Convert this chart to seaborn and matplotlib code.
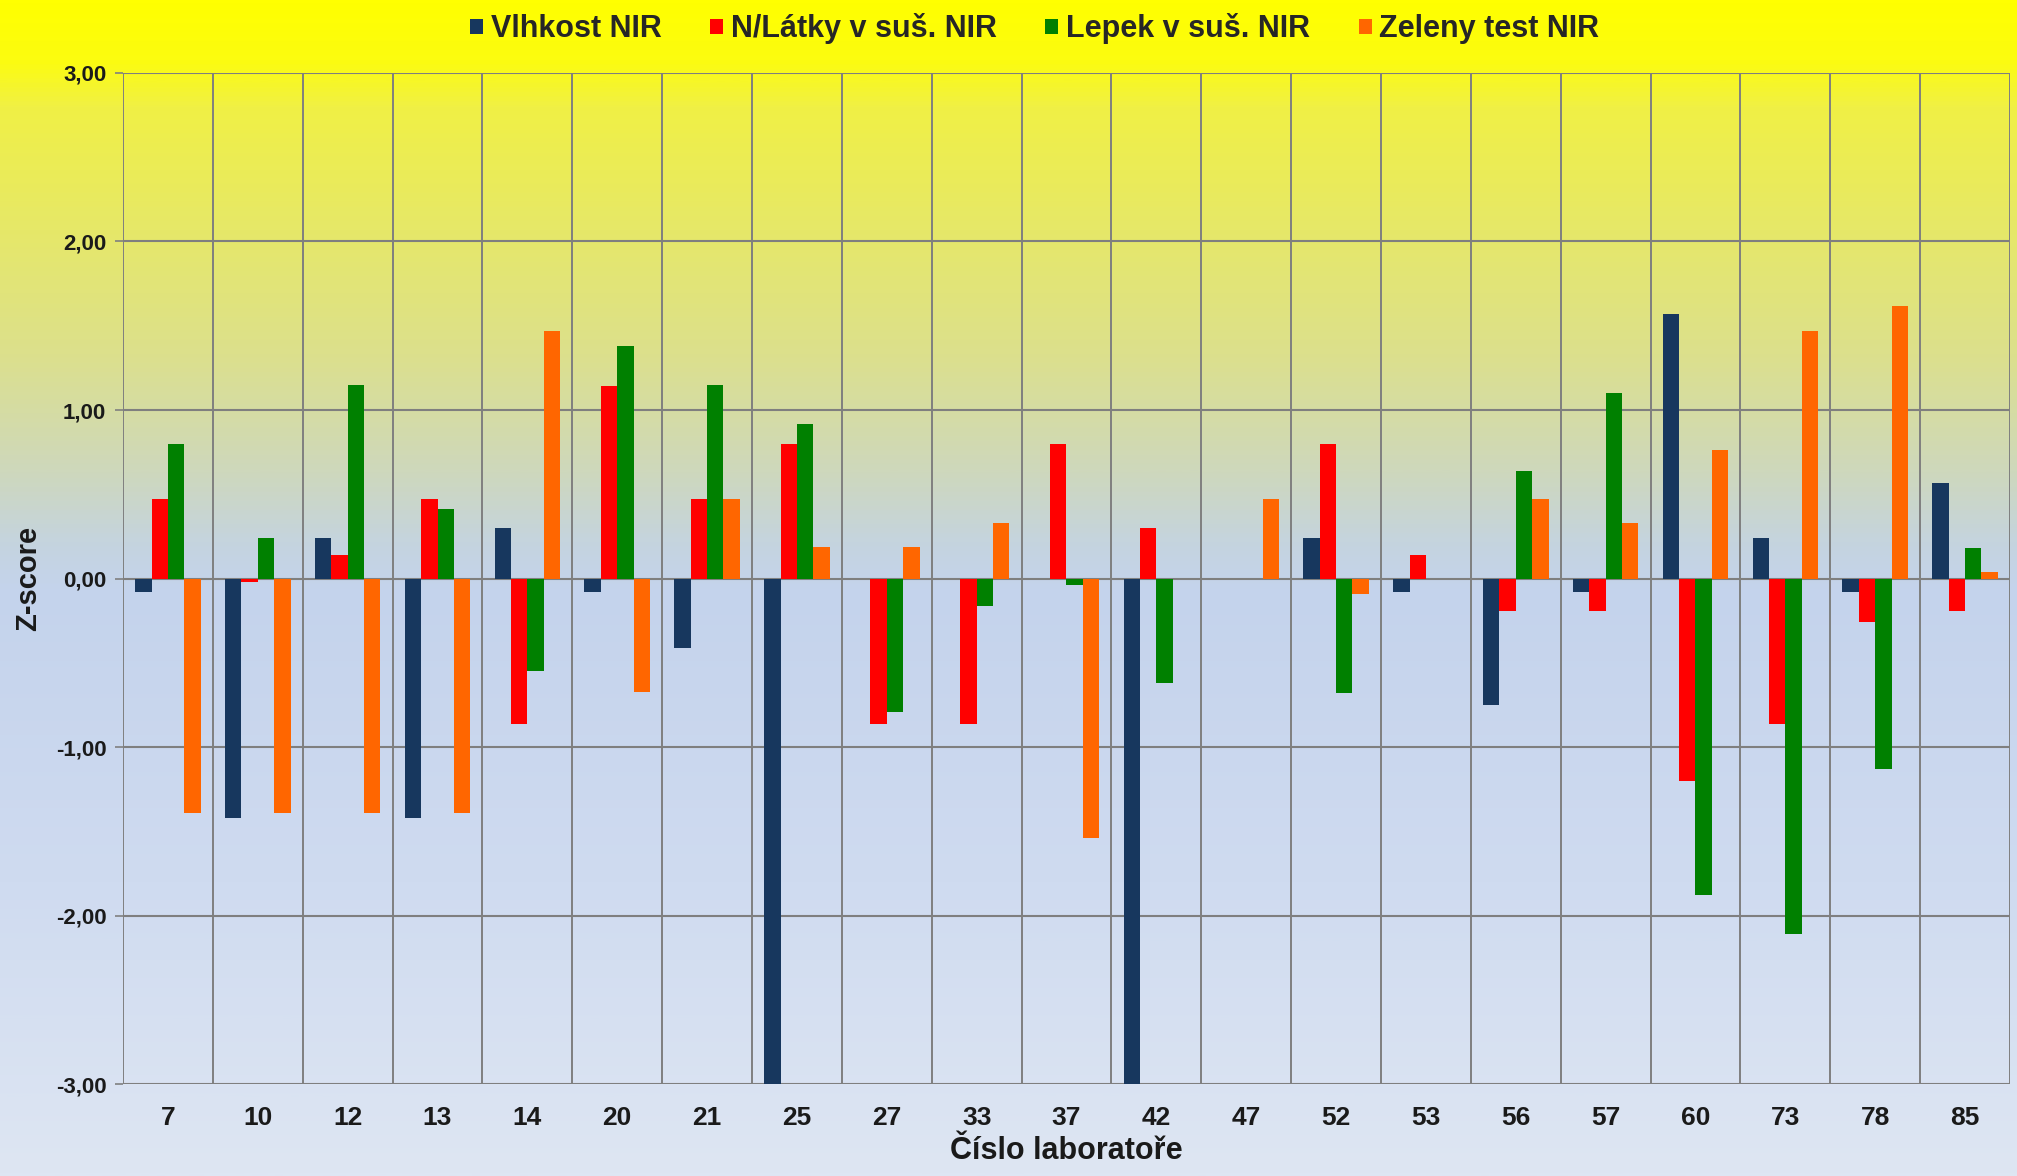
import numpy as np
import pandas as pd
import matplotlib
matplotlib.use("Agg")
import matplotlib.pyplot as plt
import seaborn as sns
from matplotlib.colors import LinearSegmentedColormap
from matplotlib.patches import Patch

labs = ["7", "10", "12", "13", "14", "20", "21", "25", "27", "33", "37",
        "42", "47", "52", "53", "56", "57", "60", "73", "78", "85"]
series_names = ["Vlhkost NIR", "N/Látky v suš. NIR", "Lepek v suš. NIR", "Zeleny test NIR"]
vlhkost = [-0.08, -1.42, 0.24, -1.42, 0.30, -0.08, -0.41, -3.30, 0.00, 0.00, 0.00,
           -3.30, 0.00, 0.24, -0.08, -0.75, -0.08, 1.57, 0.24, -0.08, 0.57]
nlatky = [0.47, -0.02, 0.14, 0.47, -0.86, 1.14, 0.47, 0.80, -0.86, -0.86, 0.80,
          0.30, 0.00, 0.80, 0.14, -0.19, -0.19, -1.20, -0.86, -0.26, -0.19]
lepek = [0.80, 0.24, 1.15, 0.41, -0.55, 1.38, 1.15, 0.92, -0.79, -0.16, -0.04,
         -0.62, 0.00, -0.68, 0.00, 0.64, 1.10, -1.88, -2.11, -1.13, 0.18]
zeleny = [-1.39, -1.39, -1.39, -1.39, 1.47, -0.67, 0.47, 0.19, 0.19, 0.33, -1.54,
          0.00, 0.47, -0.09, 0.00, 0.47, 0.33, 0.76, 1.47, 1.62, 0.04]
colors = ["#17375E", "#FF0000", "#008000", "#FF6600"]
yticks = [-3, -2, -1, 0, 1, 2, 3]

rows = []
for name, vals in zip(series_names, [vlhkost, nlatky, lepek, zeleny]):
    for lab, v in zip(labs, vals):
        rows.append({"lab": lab, "series": name, "z": v})
df = pd.DataFrame(rows)

sns.set_theme(style="white")
plt.rcParams["font.family"] = ["Liberation Sans", "DejaVu Sans"]
plt.rcParams["font.weight"] = "bold"

W, H = 2017, 1176
fig = plt.figure(figsize=(W / 100, H / 100), dpi=100)

# background gradient
bg = fig.add_axes([0, 0, 1, 1], zorder=-10)
cmap = LinearSegmentedColormap.from_list("bg", [
    (0.0, "#FFFF00"), (0.05, "#FCFC10"), (0.09, "#F0F045"), (0.30, "#DCE08C"),
    (0.40, "#CED8BC"), (0.46, "#C5D4DE"), (0.50, "#C4D3EC"), (0.75, "#CFDBF0"),
    (1.0, "#DEE6F3")])
grad = np.linspace(0, 1, 512).reshape(-1, 1)
bg.imshow(grad, aspect="auto", cmap=cmap, extent=[0, 1, 0, 1], origin="upper")
bg.set_axis_off()

ax = fig.add_axes([0.061, 0.078, 0.9355, 0.86])
ax.set_facecolor("none")
sns.barplot(data=df, x="lab", y="z", hue="series", order=labs,
            hue_order=series_names, palette=colors, width=0.73, gap=0,
            saturation=1, ax=ax, legend=False, errorbar=None, zorder=3)
for p in ax.patches:
    p.set_linewidth(0)

ax.set_ylim(-3, 3)
ax.set_xlim(-0.5, len(labs) - 0.5)
ax.set_yticks(yticks)
ax.set_yticklabels([f"{t:.2f}".replace(".", ",") for t in yticks], fontsize=16,
                   fontweight="bold", color="#1a1a1a")
ax.tick_params(axis="x", labelsize=19, length=0, pad=16)
ax.tick_params(axis="y", length=6, width=1.2, color="#808080", left=True, pad=6)
for lbl in ax.get_xticklabels():
    lbl.set_fontweight("bold")
    lbl.set_color("#1a1a1a")

gc = "#7F7F7F"
for y in yticks:
    ax.axhline(y, color=gc, lw=1.5, zorder=1)
for xb in np.arange(-0.5, len(labs), 1.0):
    ax.axvline(xb, color=gc, lw=1.4, zorder=1)
for s in ax.spines.values():
    s.set_visible(False)

ax.set_xlabel("Číslo laboratoře", fontsize=22, fontweight="bold", labelpad=4, color="#1a1a1a")
ax.set_ylabel("Z-score", fontsize=21, fontweight="bold", labelpad=10, color="#1a1a1a")

handles = [Patch(facecolor=c, edgecolor="none") for c in colors]
fig.legend(handles, series_names, loc="upper center", bbox_to_anchor=(0.513, 1.012),
           ncol=4, frameon=False, prop={"weight": "bold", "size": 22},
           handlelength=0.42, handleheight=0.42, handletextpad=0.25, columnspacing=1.6)

fig.savefig("out.png", dpi=100)
